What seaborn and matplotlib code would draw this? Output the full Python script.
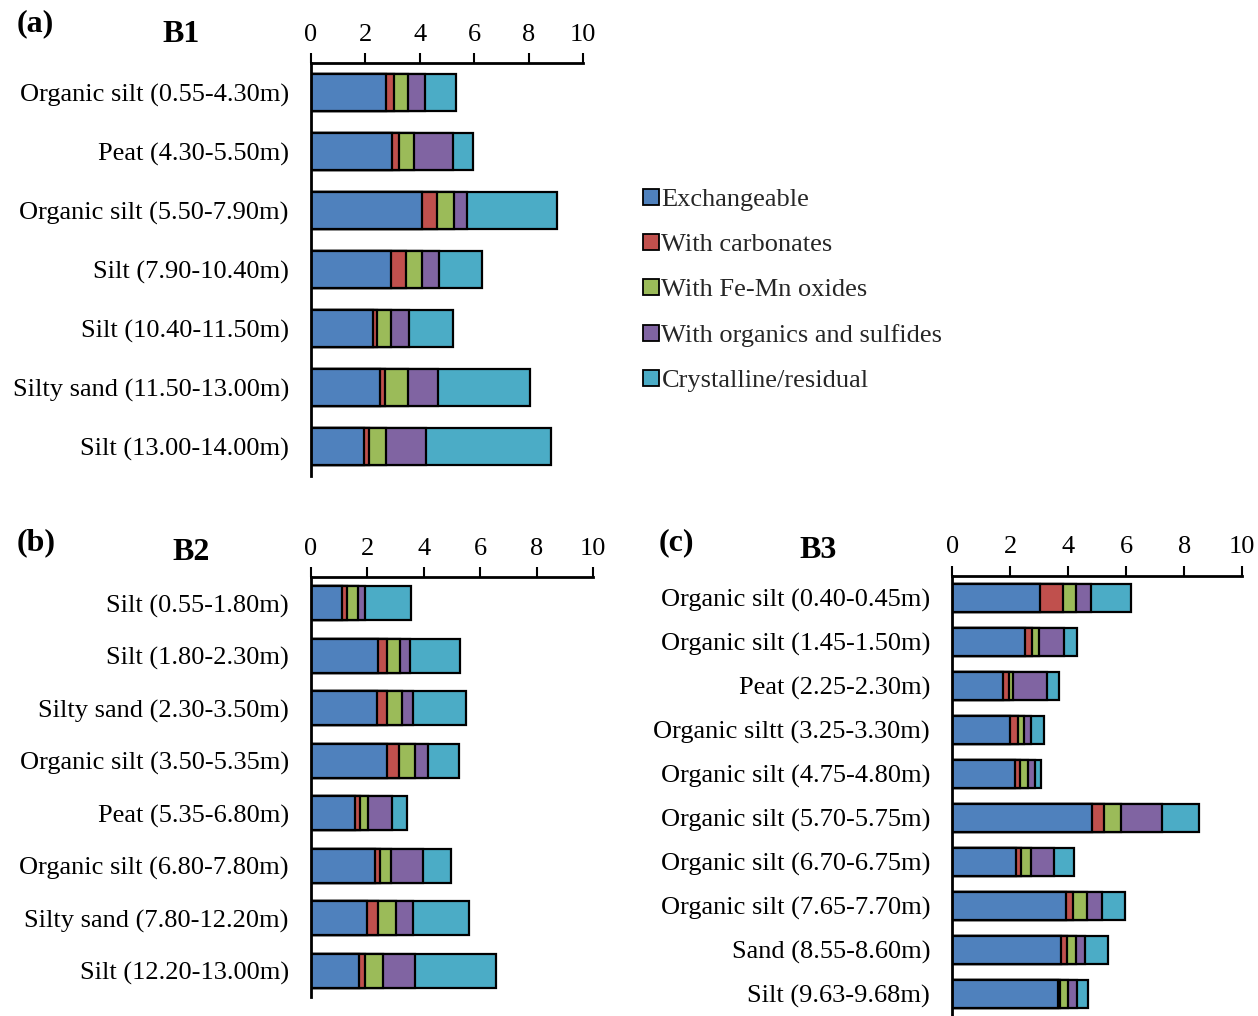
import numpy as np
import pandas as pd
import matplotlib
matplotlib.use("Agg")
import matplotlib.pyplot as plt
import seaborn as sns
from matplotlib.patches import Patch

sns.set_theme(style="white")
plt.rcParams["font.family"] = ["Liberation Serif", "DejaVu Serif"]

# Chemical fractions of the metal content (sequential extraction)
fractions = ["Exchangeable", "With carbonates", "With Fe-Mn oxides",
             "With organics and sulfides", "Crystalline/residual"]
fraction_colors = ["#4F81BD", "#C0504D", "#9BBB59", "#8064A2", "#4BACC6"]
x_ticks = [0, 2, 4, 6, 8, 10]

# Borehole B1
b1_layers = ["Organic silt (0.55-4.30m)", "Peat (4.30-5.50m)",
             "Organic silt (5.50-7.90m)", "Silt (7.90-10.40m)",
             "Silt (10.40-11.50m)", "Silty sand (11.50-13.00m)",
             "Silt (13.00-14.00m)"]
b1_exchangeable = [2.76, 2.96, 4.09, 2.94, 2.26, 2.52, 1.94]
b1_carbonates = [0.28, 0.27, 0.52, 0.55, 0.16, 0.21, 0.18]
b1_fe_mn = [0.54, 0.55, 0.63, 0.58, 0.53, 0.82, 0.65]
b1_organics = [0.59, 1.44, 0.48, 0.63, 0.64, 1.13, 1.47]
b1_residual = [1.14, 0.74, 3.31, 1.57, 1.61, 3.36, 4.59]

# Borehole B2
b2_layers = ["Silt (0.55-1.80m)", "Silt (1.80-2.30m)",
             "Silty sand (2.30-3.50m)", "Organic silt (3.50-5.35m)",
             "Peat (5.35-6.80m)", "Organic silt (6.80-7.80m)",
             "Silty sand (7.80-12.20m)", "Silt (12.20-13.00m)"]
b2_exchangeable = [1.10, 2.37, 2.35, 2.70, 1.55, 2.27, 1.98, 1.70]
b2_carbonates = [0.18, 0.31, 0.34, 0.41, 0.19, 0.19, 0.40, 0.22]
b2_fe_mn = [0.40, 0.46, 0.54, 0.57, 0.27, 0.37, 0.64, 0.63]
b2_organics = [0.24, 0.35, 0.37, 0.45, 0.87, 1.12, 0.58, 1.13]
b2_residual = [1.64, 1.79, 1.88, 1.10, 0.51, 1.01, 1.99, 2.89]

# Borehole B3
b3_layers = ["Organic silt (0.40-0.45m)", "Organic silt (1.45-1.50m)",
             "Peat (2.25-2.30m)", "Organic siltt (3.25-3.30m)",
             "Organic silt (4.75-4.80m)", "Organic silt (5.70-5.75m)",
             "Organic silt (6.70-6.75m)", "Organic silt (7.65-7.70m)",
             "Sand (8.55-8.60m)", "Silt (9.63-9.68m)"]
b3_exchangeable = [3.03, 2.51, 1.74, 2.00, 2.15, 4.83, 2.21, 3.93, 3.74, 3.64]
b3_carbonates = [0.78, 0.24, 0.20, 0.26, 0.20, 0.39, 0.16, 0.23, 0.22, 0.09]
b3_fe_mn = [0.45, 0.23, 0.16, 0.20, 0.26, 0.61, 0.34, 0.48, 0.29, 0.25]
b3_organics = [0.51, 0.87, 1.16, 0.24, 0.25, 1.41, 0.78, 0.53, 0.34, 0.33]
b3_residual = [1.39, 0.44, 0.41, 0.45, 0.21, 1.28, 0.70, 0.78, 0.77, 0.36]

FS = 19


def stacked_panel(ax, layers, parts):
    df = pd.DataFrame(dict(zip(fractions, parts)))
    cum = df.cumsum(axis=1)
    # draw cumulative totals from the outermost fraction inwards
    for name, color in reversed(list(zip(fractions, fraction_colors))):
        d = pd.DataFrame({"layer": layers, "value": cum[name]})
        sns.barplot(data=d, x="value", y="layer", order=layers, orient="h",
                    color=color, saturation=1, width=0.64, errorbar=None,
                    edgecolor="black", linewidth=1.6, ax=ax)
    ax.set_xlim(0, 10)
    ax.set_ylim(len(layers) - 0.5, -0.5)
    ax.set_xticks(x_ticks)
    ax.xaxis.tick_top()
    ax.tick_params(axis="x", direction="out", length=7, width=1.5, pad=5.5,
                   labelsize=FS, top=True, bottom=False,
                   labeltop=True, labelbottom=False, colors="black")
    ax.tick_params(axis="y", length=0, pad=16, labelsize=FS, colors="black")
    ax.set_xlabel("")
    ax.set_ylabel("")
    for side in ("right", "bottom"):
        ax.spines[side].set_visible(False)
    for side in ("top", "left"):
        ax.spines[side].set_visible(True)
        ax.spines[side].set_color("black")
        ax.spines[side].set_linewidth(2)
    ax.set_facecolor("white")


fig = plt.figure(figsize=(12.58, 10.16), dpi=100)
W, H = 1258, 1016


def add_axes_px(left, top, right, bottom):
    return fig.add_axes([left / W, 1 - bottom / H, (right - left) / W,
                         (bottom - top) / H])


ax_a = add_axes_px(311, 63, 583.3, 476)
ax_b = add_axes_px(311, 577, 593.3, 997)
ax_c = add_axes_px(952.3, 575.7, 1242.3, 1015.7)

stacked_panel(ax_a, b1_layers, [b1_exchangeable, b1_carbonates, b1_fe_mn,
                                b1_organics, b1_residual])
stacked_panel(ax_b, b2_layers, [b2_exchangeable, b2_carbonates, b2_fe_mn,
                                b2_organics, b2_residual])
stacked_panel(ax_c, b3_layers, [b3_exchangeable, b3_carbonates, b3_fe_mn,
                                b3_organics, b3_residual])

# panel letters and borehole names
for txt, x, y, size in [("(a)", 17, 24, 23), ("B1", 162, 34, 23),
                        ("(b)", 17, 543, 23), ("B2", 172, 553, 23),
                        ("(c)", 659, 543, 23), ("B3", 799, 550, 23)]:
    fig.text(x / W, 1 - y / H, txt, fontsize=size, fontweight="bold",
             ha="left", va="center", color="black")

handles = [Patch(facecolor=c, edgecolor="black", linewidth=1.3)
           for c in fraction_colors]
fig.legend(handles, fractions, loc="upper left",
           bbox_to_anchor=(643 / W, 1 - 189 / H), frameon=False,
           fontsize=FS, handlelength=0.62, handleheight=0.55,
           handletextpad=0.08, labelspacing=0.86, borderpad=0,
           borderaxespad=0)

fig.savefig("out.png", dpi=100, facecolor="white")
